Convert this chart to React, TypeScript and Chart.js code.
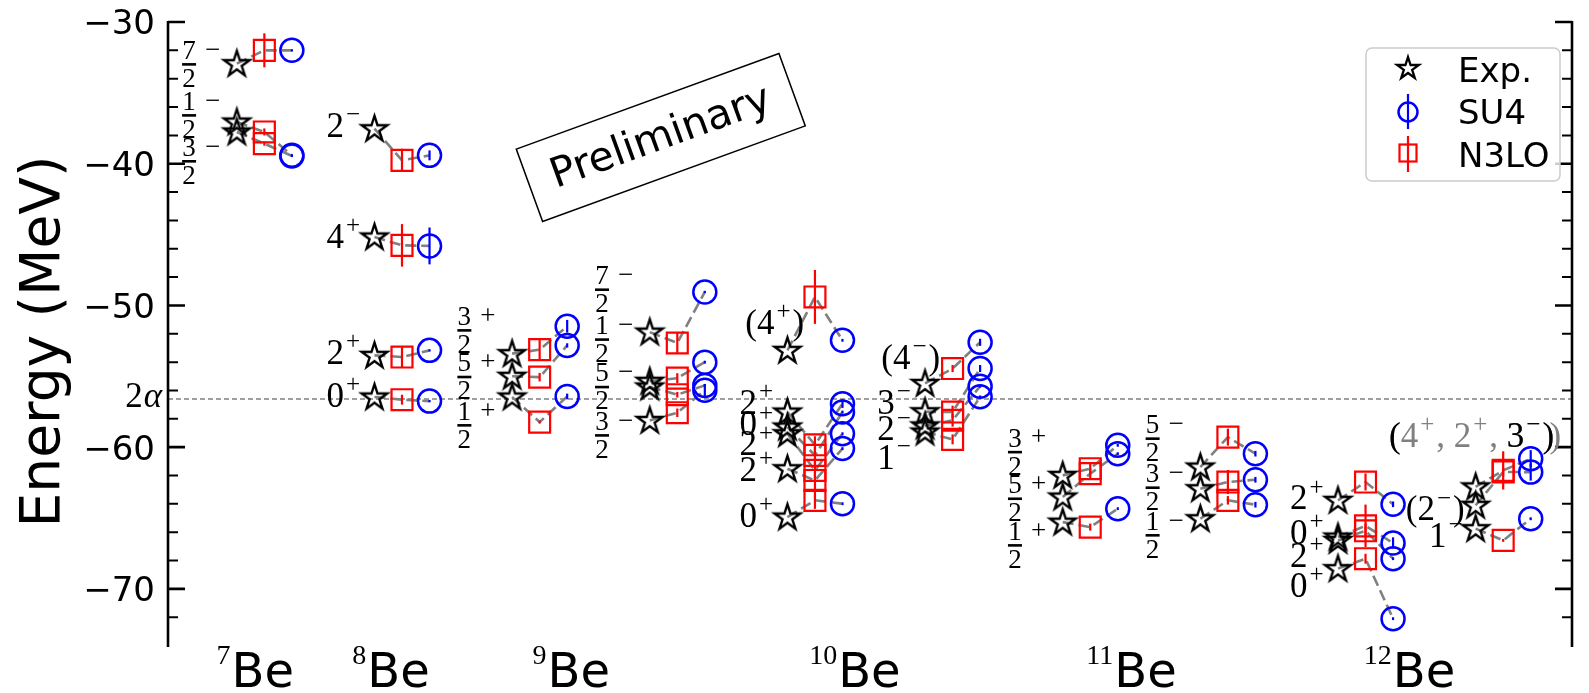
import React, { useEffect, useRef } from 'react';
import { Chart, registerables } from 'chart.js';

Chart.register(...registerables);

// ---------------- data (energies in MeV) ----------------
// each level group: Exp. column, N3LO column (+1), SU4 column (+2)
const expBe7 = [-32.94, -37.06, -37.76];
const n3loBe7 = [-32.0, -37.76, -38.58];
const n3loErrBe7 = [1.2, 0.25, 0.15];
const su4Be7 = [-32.0, -39.41, -39.45];
const su4ErrBe7 = [0.08, 0.08, 0.08];
const labBe7 = ['7/2^-', '1/2^-', '3/2^-'];
const labYBe7 = [-32.99, -36.59, -39.83];

const expBe8 = [-37.53, -45.17, -53.52, -56.46];
const n3loBe8 = [-39.76, -45.76, -53.64, -56.65];
const n3loErrBe8 = [0.82, 1.5, 0.7, 0.35];
const su4Be8 = [-39.41, -45.8, -53.17, -56.75];
const su4ErrBe8 = [0.35, 1.3, 0.08, 0.08];
const labBe8 = ['2^-', '4^+', '2^+', '0^+'];
const labYBe8 = [-37.29, -45.1, -53.31, -56.34];

const expBe9a = [-53.4, -55.0, -56.46];
const n3loBe9a = [-53.12, -55.06, -58.23];
const n3loErrBe9a = [0.7, 0.3, 0.1];
const su4Be9a = [-51.47, -52.82, -56.42];
const su4ErrBe9a = [0.45, 0.15, 0.2];
const labBe9a = ['3/2^+', '5/2^+', '1/2^+'];
const labYBe9a = [-51.76, -55.05, -58.46];

const expBe9b = [-51.88, -55.35, -55.75, -58.11];
const n3loBe9b = [-52.65, -55.13, -56.3, -57.57];
const n3loErrBe9b = [0.7, 0.35, 0.2, 0.3];
const su4Be9b = [-49.05, -54.0, -55.64, -55.99];
const su4ErrBe9b = [0.08, 0.1, 0.1, 0.45];
const labBe9b = ['7/2^-', '1/2^-', '5/2^-', '3/2^-'];
const labYBe9b = [-48.89, -52.41, -55.76, -59.17];

const expBe10a = [-53.17, -57.52, -58.58, -59.05, -61.52, -64.93];
const n3loBe10a = [-49.4, -59.83, -60.58, -61.64, -62.35, -63.75];
const n3loErrBe10a = [1.9, 0.6, 0.6, 0.6, 0.6, 0.6];
const su4Be10a = [-52.46, -56.93, -57.52, -59.05, -60.1, -63.99];
const su4ErrBe10a = [0.1, 0.3, 0.1, 0.1, 0.1, 0.1];
const labBe10a = ['(4^+)', '2^+', '0^+', '2^+', '2^+', '0^+'];
const labYBe10a = [-51.17, -56.82, -58.34, -59.75, -61.57, -64.82];

const expBe10b = [-55.5, -57.5, -58.5, -58.93];
const n3loBe10b = [-54.45, -57.52, -58.1, -59.45];
const n3loErrBe10b = [0.25, 0.45, 0.45, 0.35];
const su4Be10b = [-52.6, -54.45, -55.7, -56.45];
const su4ErrBe10b = [0.25, 0.25, 0.1, 0.1];
const labBe10b = ['(4^-)', '3^-', '2^-', '1^-'];
const labYBe10b = [-53.64, -56.82, -58.7, -60.7];

const expBe11a = [-61.99, -63.52, -65.29];
const n3loBe11a = [-61.52, -61.87, -65.64];
const n3loErrBe11a = [0.35, 0.35, 0.25];
const su4Be11a = [-59.87, -60.46, -64.34];
const su4ErrBe11a = [0.1, 0.1, 0.1];
const labBe11a = ['3/2^+', '5/2^+', '1/2^+'];
const labYBe11a = [-60.35, -63.64, -66.93];

const expBe11b = [-61.4, -62.93, -65.05];
const n3loBe11b = [-59.29, -62.46, -63.75];
const n3loErrBe11b = [0.6, 0.85, 0.3];
const su4Be11b = [-60.46, -62.3, -64.06];
const su4ErrBe11b = [0.2, 0.2, 0.2];
const labBe11b = ['5/2^-', '3/2^-', '1/2^-'];
const labYBe11b = [-59.4, -62.86, -66.22];

const expBe12a = [-63.75, -66.34, -66.58, -68.57];
const n3loBe12a = [-62.46, -65.55, -65.9, -67.87];
const n3loErrBe12a = [0.6, 1.5, 0.5, 0.35];
const su4Be12a = [-64.03, -66.76, -67.87, -72.1];
const su4ErrBe12a = [0.2, 0.4, 0.1, 0.1];
const labBe12a = ['2^+', '0^+', '2^+', '0^+'];
const labYBe12a = [-63.58, -65.99, -67.64, -69.76];

const expBe12b = [-62.8, -64.1, -65.75];
const n3loBe12b = [-61.64, -61.75, -66.58];
const n3loErrBe12b = [1.35, 0.3, 0.1];
const su4Be12b = [-60.81, -61.76, -65.05];
const su4ErrBe12b = [0.6, 0.6, 0.1];
const labBe12b = ['(4^+, 2^+, 3^-)', '(2^-)', '1^-'];
const labYBe12b = [-59.17, -64.34, -66.22];

const nucleusMass = ['7', '8', '9', '10', '11', '12'];
const nucleusTickX = [0.67, 5.6, 12.15, 22.45, 32.5, 42.6];
const yMajorTicks = [-30, -40, -50, -60, -70];
const twoAlphaEnergy = -56.6;
const legendNames = ['Exp.', 'SU4', 'N3LO'];

// group column position (Exp. column) and label horizontal shifts (x units)
const groups = [
  { x: 0, exp: expBe7, n3lo: n3loBe7, n3loErr: n3loErrBe7, su4: su4Be7, su4Err: su4ErrBe7, lab: labBe7, labY: labYBe7, labDx: [] as number[] },
  { x: 5, exp: expBe8, n3lo: n3loBe8, n3loErr: n3loErrBe8, su4: su4Be8, su4Err: su4ErrBe8, lab: labBe8, labY: labYBe8, labDx: [] as number[] },
  { x: 10, exp: expBe9a, n3lo: n3loBe9a, n3loErr: n3loErrBe9a, su4: su4Be9a, su4Err: su4ErrBe9a, lab: labBe9a, labY: labYBe9a, labDx: [] as number[] },
  { x: 15, exp: expBe9b, n3lo: n3loBe9b, n3loErr: n3loErrBe9b, su4: su4Be9b, su4Err: su4ErrBe9b, lab: labBe9b, labY: labYBe9b, labDx: [] as number[] },
  { x: 20, exp: expBe10a, n3lo: n3loBe10a, n3loErr: n3loErrBe10a, su4: su4Be10a, su4Err: su4ErrBe10a, lab: labBe10a, labY: labYBe10a, labDx: [0.61] },
  { x: 25, exp: expBe10b, n3lo: n3loBe10b, n3loErr: n3loErrBe10b, su4: su4Be10b, su4Err: su4ErrBe10b, lab: labBe10b, labY: labYBe10b, labDx: [0.55] },
  { x: 30, exp: expBe11a, n3lo: n3loBe11a, n3loErr: n3loErrBe11a, su4: su4Be11a, su4Err: su4ErrBe11a, lab: labBe11a, labY: labYBe11a, labDx: [] as number[] },
  { x: 35, exp: expBe11b, n3lo: n3loBe11b, n3loErr: n3loErrBe11b, su4: su4Be11b, su4Err: su4ErrBe11b, lab: labBe11b, labY: labYBe11b, labDx: [] as number[] },
  { x: 40, exp: expBe12a, n3lo: n3loBe12a, n3loErr: n3loErrBe12a, su4: su4Be12a, su4Err: su4ErrBe12a, lab: labBe12a, labY: labYBe12a, labDx: [] as number[] },
  { x: 45, exp: expBe12b, n3lo: n3loBe12b, n3loErr: n3loErrBe12b, su4: su4Be12b, su4Err: su4ErrBe12b, lab: labBe12b, labY: labYBe12b, labDx: [2.85, -0.4, -0.47] },
];

// ---------------- styling ----------------
const W = 1589;
const H = 693;
const SANS = '"DejaVu Sans", sans-serif';
const SERIF = '"Liberation Serif", "DejaVu Serif", serif';
const MAIN = 35;
const SUP = 25;
const SUP_GAP = 2;
const FRAC = 27;
const DEFAULT_DX = -0.52;
const FRAC_DX = -0.6;
const RED = '#ff0000';
const BLUE = '#0000ff';
const GRAY = '#808080';

function makeStar(R: number, lw: number) {
  const size = Math.ceil(2 * R + lw * 3);
  const c = document.createElement('canvas');
  c.width = size;
  c.height = size;
  const ctx = c.getContext('2d')!;
  ctx.translate(size / 2, size / 2 + R * 0.05);
  ctx.beginPath();
  for (let i = 0; i < 10; i++) {
    const r = i % 2 === 0 ? R : R * 0.381966;
    const a = -Math.PI / 2 + (i * Math.PI) / 5;
    if (i === 0) ctx.moveTo(r * Math.cos(a), r * Math.sin(a));
    else ctx.lineTo(r * Math.cos(a), r * Math.sin(a));
  }
  ctx.closePath();
  ctx.lineJoin = 'miter';
  ctx.lineWidth = lw;
  ctx.strokeStyle = '#000';
  ctx.stroke();
  return c;
}

function parseLabel(s: string) {
  const parts = s.split(/\^([+-])/);
  return parts
    .map((t, i) => ({ text: i % 2 ? (t === '-' ? '\u2212' : '+') : t, sup: i % 2 === 1 }))
    .filter((p) => p.text.length > 0);
}

function supLabelWidth(ctx: CanvasRenderingContext2D, s: string) {
  const segs = parseLabel(s);
  let w = 0;
  segs.forEach((sg, k) => {
    ctx.font = `${sg.sup ? SUP : MAIN}px ${SERIF}`;
    w += ctx.measureText(sg.text).width;
    if (sg.sup) w += SUP_GAP + (k < segs.length - 1 ? SUP_GAP : 0);
  });
  return w;
}

function drawSupLabel(ctx: CanvasRenderingContext2D, s: string, left: number, cy: number, color: string) {
  let x = left;
  const base = cy + MAIN * 0.33;
  const segs = parseLabel(s);
  segs.forEach((sg, k) => {
    ctx.font = `${sg.sup ? SUP : MAIN}px ${SERIF}`;
    ctx.fillStyle = color;
    ctx.textAlign = 'left';
    ctx.textBaseline = 'alphabetic';
    if (sg.sup) x += SUP_GAP;
    ctx.fillText(sg.text, x, sg.sup ? cy - 3 : base);
    x += ctx.measureText(sg.text).width + (sg.sup && k < segs.length - 1 ? SUP_GAP : 0);
  });
}

function drawFracLabel(ctx: CanvasRenderingContext2D, s: string, right: number, by: number) {
  const m = s.match(/^(\d+)\/(\d+)\^([+-])$/);
  if (!m) return;
  const sign = m[3] === '-' ? '\u2212' : '+';
  ctx.font = `${FRAC}px ${SERIF}`;
  ctx.fillStyle = '#000';
  ctx.textBaseline = 'alphabetic';
  const sw = ctx.measureText(sign).width;
  ctx.textAlign = 'left';
  ctx.fillText(sign, right - sw, by - 14.5 + FRAC * 0.29);
  const barW = 14;
  const cx = right - sw - 9 - barW / 2;
  ctx.fillRect(cx - barW / 2, by - 1.3, barW, 2.6);
  ctx.textAlign = 'center';
  ctx.fillText(m[1], cx, by - 14.5 + FRAC * 0.33);
  ctx.fillText(m[2], cx, by + 13.5 + FRAC * 0.33);
}

const overlayPlugin = {
  id: 'overlay',
  beforeDatasetsDraw(chart: any) {
    const { ctx, chartArea, scales } = chart;
    const y = scales.y.getPixelForValue(twoAlphaEnergy);
    ctx.save();
    ctx.strokeStyle = GRAY;
    ctx.lineWidth = 1.3;
    ctx.setLineDash([5, 3]);
    ctx.beginPath();
    ctx.moveTo(chartArea.left, y);
    ctx.lineTo(chartArea.right, y);
    ctx.stroke();
    ctx.restore();
  },
  afterDatasetsDraw(chart: any, _args: any, opts: any) {
    const { ctx, scales } = chart;
    ctx.save();
    ctx.lineWidth = 2.2;
    const drawErr = (dsIndex: number, errs: number[], color: string) => {
      if (!errs) return;
      const meta = chart.getDatasetMeta(dsIndex);
      ctx.strokeStyle = color;
      meta.data.forEach((pt: any, j: number) => {
        const v = chart.data.datasets[dsIndex].data[j].y;
        const e = errs[j] || 0;
        ctx.beginPath();
        ctx.moveTo(pt.x, scales.y.getPixelForValue(v + e));
        ctx.lineTo(pt.x, scales.y.getPixelForValue(v - e));
        ctx.stroke();
      });
    };
    drawErr(2, opts.n3loErrs, RED);
    drawErr(3, opts.su4Errs, BLUE);
    ctx.restore();
  },
  afterDraw(chart: any, _args: any, opts: any) {
    const { ctx, chartArea, scales } = chart;
    const xs = scales.x;
    const ys = scales.y;
    ctx.save();
    // spines
    ctx.strokeStyle = '#000';
    ctx.lineWidth = 2.6;
    ctx.setLineDash([]);
    [chartArea.left, chartArea.right].forEach((sx: number) => {
      ctx.beginPath();
      ctx.moveTo(sx, chartArea.top - 1);
      ctx.lineTo(sx, chartArea.bottom);
      ctx.stroke();
    });
    // ticks (inward on both sides)
    for (let v = -72; v <= -30; v += 2) {
      const py = ys.getPixelForValue(v);
      const major = yMajorTicks.includes(v);
      const len = major ? 17 : 10;
      ctx.lineWidth = major ? 2.6 : 2;
      ctx.beginPath();
      ctx.moveTo(chartArea.left, py);
      ctx.lineTo(chartArea.left + len, py);
      ctx.moveTo(chartArea.right, py);
      ctx.lineTo(chartArea.right - len, py);
      ctx.stroke();
    }
    // y tick labels
    ctx.font = `34px ${SANS}`;
    ctx.fillStyle = '#000';
    ctx.textAlign = 'right';
    ctx.textBaseline = 'alphabetic';
    yMajorTicks.forEach((v) => {
      const py = ys.getPixelForValue(v);
      ctx.fillText('\u2212' + Math.abs(v), chartArea.left - 13, py + 12.4);
    });
    // 2 alpha label
    const pa = ys.getPixelForValue(twoAlphaEnergy);
    ctx.font = `italic ${MAIN}px ${SERIF}`;
    const aw = ctx.measureText('\u03b1').width;
    ctx.textAlign = 'right';
    ctx.fillText('\u03b1', chartArea.left - 6, pa + 8);
    ctx.font = `${MAIN}px ${SERIF}`;
    ctx.fillText('2', chartArea.left - 7 - aw, pa + 8);
    // y axis title
    ctx.save();
    ctx.translate(59, (chartArea.top + chartArea.bottom) / 2 + 7);
    ctx.rotate(-Math.PI / 2);
    ctx.font = `55px ${SANS}`;
    ctx.textAlign = 'center';
    ctx.textBaseline = 'alphabetic';
    ctx.fillText('Energy (MeV)', 0, 0);
    ctx.restore();
    // x tick labels: superscript mass number + Be
    nucleusMass.forEach((mass, i) => {
      const cx = xs.getPixelForValue(nucleusTickX[i]);
      ctx.font = `28px ${SERIF}`;
      const mw = ctx.measureText(mass).width;
      ctx.font = `48px ${SANS}`;
      const bw = ctx.measureText('Be').width;
      const left = cx - (mw + 1 + bw) / 2;
      ctx.textAlign = 'left';
      ctx.font = `28px ${SERIF}`;
      ctx.fillText(mass, left, 664);
      ctx.font = `48px ${SANS}`;
      ctx.fillText('Be', left + mw + 1, 687);
    });
    // state labels
    groups.forEach((g) => {
      g.lab.forEach((s, i) => {
        const isFrac = s.includes('/');
        const dx = g.labDx[i] !== undefined ? g.labDx[i] : isFrac ? FRAC_DX : DEFAULT_DX;
        const right = xs.getPixelForValue(g.x + dx);
        const cy = ys.getPixelForValue(g.labY[i]);
        if (isFrac) {
          drawFracLabel(ctx, s, right, cy);
        } else if (s.includes(',')) {
          // grey tentative assignment, with the firm "3^-" in black
          const w = supLabelWidth(ctx, s);
          const left = right - w;
          drawSupLabel(ctx, s, left, cy, GRAY);
          const cut = s.lastIndexOf(', ') + 2;
          const prefixW = supLabelWidth(ctx, s.slice(0, cut));
          drawSupLabel(ctx, '(', left, cy, '#000');
          drawSupLabel(ctx, s.slice(cut), left + prefixW, cy, '#000');
          ctx.font = `${MAIN}px ${SERIF}`;
          const pw = ctx.measureText(')').width;
          drawSupLabel(ctx, ')', right - pw + 7, cy, GRAY);
        } else {
          const w = supLabelWidth(ctx, s);
          drawSupLabel(ctx, s, right - w, cy, '#000');
        }
      });
    });
    // "Preliminary" box
    const px = xs.getPixelForValue(15.4);
    const py = ys.getPixelForValue(-38.15);
    ctx.save();
    ctx.translate(px, py);
    ctx.rotate((-20 * Math.PI) / 180);
    ctx.font = `41px ${SANS}`;
    const tw = ctx.measureText('Preliminary').width;
    const bw = tw + 48;
    const bh = 77;
    ctx.fillStyle = '#fff';
    ctx.fillRect(-bw / 2, -bh / 2, bw, bh);
    ctx.strokeStyle = '#000';
    ctx.lineWidth = 1.5;
    ctx.strokeRect(-bw / 2, -bh / 2, bw, bh);
    ctx.fillStyle = '#000';
    ctx.textAlign = 'center';
    ctx.textBaseline = 'middle';
    ctx.fillText('Preliminary', 0, 1);
    ctx.restore();
    // legend
    const lx = 1366, ly = 48, lw = 194, lh = 133;
    ctx.beginPath();
    if (ctx.roundRect) ctx.roundRect(lx, ly, lw, lh, 6);
    else ctx.rect(lx, ly, lw, lh);
    ctx.fillStyle = 'rgba(255,255,255,0.8)';
    ctx.fill();
    ctx.strokeStyle = '#cccccc';
    ctx.lineWidth = 1.5;
    ctx.stroke();
    const mx = 1408;
    const star = opts.legendStar as HTMLCanvasElement;
    if (star) ctx.drawImage(star, mx - star.width / 2, 68 - star.height / 2);
    ctx.strokeStyle = BLUE;
    ctx.lineWidth = 2.5;
    ctx.beginPath();
    ctx.arc(mx, 112, 9.5, 0, Math.PI * 2);
    ctx.stroke();
    ctx.lineWidth = 2.2;
    ctx.beginPath();
    ctx.moveTo(mx, 94);
    ctx.lineTo(mx, 129);
    ctx.stroke();
    ctx.strokeStyle = RED;
    ctx.strokeRect(mx - 8.5, 153 - 8.5, 17, 17);
    ctx.beginPath();
    ctx.moveTo(mx, 136);
    ctx.lineTo(mx, 172);
    ctx.stroke();
    ctx.fillStyle = '#000';
    ctx.font = `34px ${SANS}`;
    ctx.textAlign = 'left';
    ctx.textBaseline = 'alphabetic';
    ctx.fillText(legendNames[0], 1458, 82);
    ctx.fillText(legendNames[1], 1458, 123.5);
    ctx.fillText(legendNames[2], 1458, 166.5);
    ctx.restore();
  },
};

export default function App() {
  const ref = useRef<HTMLCanvasElement>(null);
  useEffect(() => {
    const canvas = ref.current!;
    const starImg = makeStar(13.5, 2.4);
    const legendStar = makeStar(11.5, 2.3);
    const lineData: any[] = [];
    const expData: any[] = [];
    const n3loData: any[] = [];
    const su4Data: any[] = [];
    const n3loErrs: number[] = [];
    const su4Errs: number[] = [];
    groups.forEach((g) => {
      g.exp.forEach((e, i) => {
        lineData.push({ x: g.x, y: e }, { x: g.x + 1, y: g.n3lo[i] }, { x: g.x + 2, y: g.su4[i] }, { x: g.x + 2, y: null });
        expData.push({ x: g.x, y: e });
        n3loData.push({ x: g.x + 1, y: g.n3lo[i] });
        n3loErrs.push(g.n3loErr[i]);
        su4Data.push({ x: g.x + 2, y: g.su4[i] });
        su4Errs.push(g.su4Err[i]);
      });
    });
    const chart: any = new Chart(canvas, {
      type: 'scatter',
      data: {
        datasets: [
          {
            type: 'line',
            label: 'levels',
            data: lineData,
            borderColor: GRAY,
            borderWidth: 2.6,
            borderDash: [11, 5],
            pointRadius: 0,
            spanGaps: false,
            fill: false,
            order: 4,
          } as any,
          { label: 'Exp.', data: expData, pointStyle: starImg, pointRadius: 14, order: 1 } as any,
          {
            label: 'N3LO',
            data: n3loData,
            pointStyle: 'rect',
            pointRadius: 14.8,
            borderColor: RED,
            borderWidth: 2.2,
            backgroundColor: 'rgba(0,0,0,0)',
            order: 2,
          },
          {
            label: 'SU4',
            data: su4Data,
            pointStyle: 'circle',
            pointRadius: 11.5,
            borderColor: BLUE,
            borderWidth: 2.5,
            backgroundColor: 'rgba(0,0,0,0)',
            order: 3,
          },
        ],
      },
      options: {
        responsive: false,
        animation: false,
        events: [],
        layout: { padding: { left: 168, right: 4, top: 22, bottom: 46 } },
        plugins: {
          legend: { display: false },
          tooltip: { enabled: false },
          overlay: { n3loErrs, su4Errs, legendStar },
        },
        scales: {
          x: { type: 'linear', min: -2.5, max: 48.5, display: false },
          y: { type: 'linear', min: -74.1, max: -30, display: false },
        },
      },
      plugins: [overlayPlugin],
    } as any);
    return () => chart.destroy();
  }, []);
  return (
    <div style={{ position: 'absolute', left: 0, top: 0, width: W, height: H, background: '#fff' }}>
      <canvas ref={ref} width={W} height={H} />
    </div>
  );
}
